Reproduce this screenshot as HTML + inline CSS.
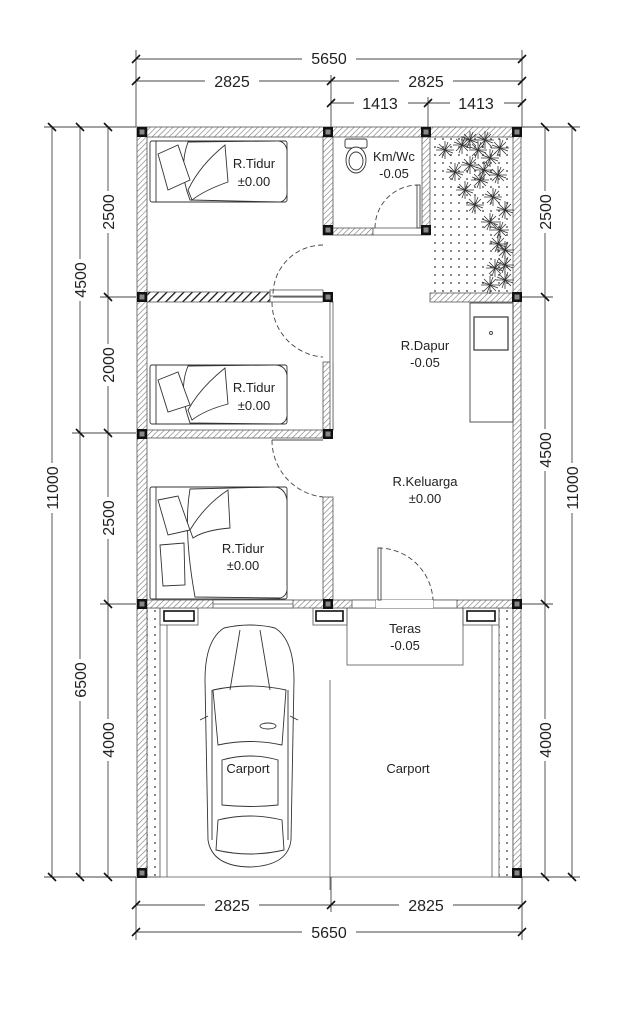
<!DOCTYPE html>
<html><head><meta charset="utf-8"><style>
html,body{margin:0;padding:0;background:#fff}
svg{display:block}
text{font-family:"Liberation Sans",sans-serif;fill:#222}
</style></head><body>
<svg width="639" height="1024" viewBox="0 0 639 1024" xmlns="http://www.w3.org/2000/svg">
<defs>
<pattern id="h" width="4" height="4" patternUnits="userSpaceOnUse" patternTransform="rotate(45)"><rect width="4" height="4" fill="#fff"/><line x1="0" y1="0" x2="0" y2="4" stroke="#777" stroke-width="1.2"/></pattern>
<pattern id="hd" width="6" height="6" patternUnits="userSpaceOnUse" patternTransform="rotate(45)"><rect width="6" height="6" fill="#fff"/><line x1="0" y1="0" x2="0" y2="6" stroke="#111" stroke-width="2.5"/></pattern>
<pattern id="dots" width="8" height="8" patternUnits="userSpaceOnUse"><circle cx="3" cy="3" r="0.9" fill="#333"/></pattern>
<g id="col"><rect x="-5" y="-5" width="10" height="10" fill="#111"/><rect x="-2.5" y="-2.5" width="5" height="5" fill="#888"/></g>
<g id="star" stroke="#333" stroke-width="0.8"><line x1="-9" y1="0" x2="9" y2="0"/><line x1="0" y1="-9" x2="0" y2="9"/><line x1="-6" y1="-6" x2="6" y2="6"/><line x1="-6" y1="6" x2="6" y2="-6"/><line x1="-8" y1="-3" x2="8" y2="3"/><line x1="-3" y1="8" x2="3" y2="-8"/></g>
</defs>

<g stroke="#444" stroke-width="0.9" fill="none">
<line x1="136" y1="59" x2="522" y2="59"/>
<line x1="136" y1="81" x2="522" y2="81"/>
<line x1="331" y1="103" x2="522" y2="103"/>
<line x1="136" y1="50" x2="136" y2="127"/>
<line x1="522" y1="50" x2="522" y2="127"/>
<line x1="331" y1="75" x2="331" y2="127"/>
<line x1="428" y1="97" x2="428" y2="127"/>
<line x1="136" y1="905" x2="522" y2="905"/>
<line x1="136" y1="932" x2="522" y2="932"/>
<line x1="136" y1="877" x2="136" y2="940"/>
<line x1="522" y1="877" x2="522" y2="940"/>
<line x1="331" y1="877" x2="331" y2="912"/>
<line x1="52" y1="127" x2="52" y2="877"/>
<line x1="80" y1="127" x2="80" y2="877"/>
<line x1="108" y1="127" x2="108" y2="877"/>
<line x1="44" y1="127" x2="136" y2="127"/>
<line x1="44" y1="877" x2="136" y2="877"/>
<line x1="72" y1="433" x2="136" y2="433"/>
<line x1="100" y1="297" x2="136" y2="297"/>
<line x1="100" y1="604" x2="136" y2="604"/>
<line x1="545" y1="127" x2="545" y2="877"/>
<line x1="572" y1="127" x2="572" y2="877"/>
<line x1="522" y1="127" x2="580" y2="127"/>
<line x1="522" y1="877" x2="580" y2="877"/>
<line x1="522" y1="297" x2="553" y2="297"/>
<line x1="522" y1="604" x2="553" y2="604"/>
</g>
<g stroke="#111" stroke-width="1.6">
<path d="M132 63l8-8M132 85l8-8M327 85l8-8M327 107l8-8M424 107l8-8M518 63l8-8M518 85l8-8M518 107l8-8"/>
<path d="M132 909l8-8M327 909l8-8M518 909l8-8M132 936l8-8M518 936l8-8"/>
<path d="M48 123l8 8M76 123l8 8M104 123l8 8M48 873l8 8M76 873l8 8M104 873l8 8M76 429l8 8M104 293l8 8M104 429l8 8M104 600l8 8"/>
<path d="M541 123l8 8M568 123l8 8M541 293l8 8M541 600l8 8M541 873l8 8M568 873l8 8"/>
</g>
<g font-size="16" text-anchor="middle">
<rect x="302" y="48" width="54" height="20" fill="#fff"/><text x="329" y="64">5650</text>
<rect x="205" y="70" width="54" height="20" fill="#fff"/><text x="232" y="87">2825</text>
<rect x="399" y="70" width="54" height="20" fill="#fff"/><text x="426" y="87">2825</text>
<rect x="354" y="92" width="54" height="20" fill="#fff"/><text x="380" y="109">1413</text>
<rect x="450" y="92" width="54" height="20" fill="#fff"/><text x="476" y="109">1413</text>
<rect x="205" y="894" width="54" height="20" fill="#fff"/><text x="232" y="911">2825</text>
<rect x="399" y="894" width="54" height="20" fill="#fff"/><text x="426" y="911">2825</text>
<rect x="302" y="921" width="54" height="20" fill="#fff"/><text x="329" y="938">5650</text>
</g>
<g font-size="16" text-anchor="middle">
<g transform="translate(52,488) rotate(-90)"><rect x="-25" y="-10" width="50" height="20" fill="#fff"/><text y="6">11000</text></g>
<g transform="translate(80,280) rotate(-90)"><rect x="-21" y="-10" width="42" height="20" fill="#fff"/><text y="6">4500</text></g>
<g transform="translate(80,680) rotate(-90)"><rect x="-21" y="-10" width="42" height="20" fill="#fff"/><text y="6">6500</text></g>
<g transform="translate(108,212) rotate(-90)"><rect x="-21" y="-10" width="42" height="20" fill="#fff"/><text y="6">2500</text></g>
<g transform="translate(108,365) rotate(-90)"><rect x="-21" y="-10" width="42" height="20" fill="#fff"/><text y="6">2000</text></g>
<g transform="translate(108,518) rotate(-90)"><rect x="-21" y="-10" width="42" height="20" fill="#fff"/><text y="6">2500</text></g>
<g transform="translate(108,740) rotate(-90)"><rect x="-21" y="-10" width="42" height="20" fill="#fff"/><text y="6">4000</text></g>
<g transform="translate(545,212) rotate(-90)"><rect x="-21" y="-10" width="42" height="20" fill="#fff"/><text y="6">2500</text></g>
<g transform="translate(545,450) rotate(-90)"><rect x="-21" y="-10" width="42" height="20" fill="#fff"/><text y="6">4500</text></g>
<g transform="translate(545,740) rotate(-90)"><rect x="-21" y="-10" width="42" height="20" fill="#fff"/><text y="6">4000</text></g>
<g transform="translate(572,488) rotate(-90)"><rect x="-25" y="-10" width="50" height="20" fill="#fff"/><text y="6">11000</text></g>
</g>

<rect x="430" y="137" width="83" height="156" fill="url(#dots)"/>
<rect x="147" y="608" width="13" height="269" fill="url(#dots)" stroke="#555" stroke-width="0.8"/>
<rect x="499" y="608" width="14" height="269" fill="url(#dots)" stroke="#555" stroke-width="0.8"/>
<g stroke="#555" stroke-width="0.8" fill="none">
<line x1="167" y1="625" x2="167" y2="877"/>
<line x1="492" y1="625" x2="492" y2="877"/>
<line x1="137" y1="877" x2="521" y2="877"/>
<line x1="330" y1="680" x2="330" y2="890"/>
<rect x="347" y="608" width="116" height="57"/>
<rect x="160" y="608" width="38" height="17"/><rect x="164" y="611" width="30" height="10" stroke="#111" stroke-width="1.6"/>
<rect x="313" y="608" width="34" height="17"/><rect x="316" y="611" width="27" height="10" stroke="#111" stroke-width="1.6"/>
<rect x="463" y="608" width="36" height="17"/><rect x="467" y="611" width="28" height="10" stroke="#111" stroke-width="1.6"/>
</g>

<g stroke="#555" stroke-width="0.8">
<rect x="137" y="127" width="384" height="10" fill="url(#h)"/>
<rect x="137" y="127" width="10" height="750" fill="url(#h)"/>
<rect x="513" y="127" width="8" height="750" fill="url(#h)"/>
<rect x="323" y="137" width="10" height="98" fill="url(#h)"/>
<rect x="422" y="137" width="8" height="98" fill="url(#h)"/>
<rect x="333" y="228" width="40" height="7" fill="url(#h)"/>
<rect x="430" y="293" width="83" height="9" fill="url(#h)"/>
<rect x="147" y="292" width="123" height="10" fill="url(#hd)"/>
<rect x="147" y="430" width="176" height="8" fill="url(#h)"/>
<rect x="323" y="362" width="10" height="68" fill="url(#h)"/>
<rect x="323" y="497" width="10" height="103" fill="url(#h)"/>
<rect x="147" y="600" width="366" height="8" fill="url(#h)"/>
<rect x="330" y="302" width="3" height="128" fill="#fff"/>
</g>
<g stroke="#555" stroke-width="0.8" fill="#fff">
<rect x="213" y="600" width="80" height="8"/><line x1="213" y1="604" x2="293" y2="604"/>
<rect x="352" y="600" width="24" height="8"/><rect x="433" y="600" width="24" height="8"/>
<rect x="376" y="600" width="57" height="8" stroke="none"/>
<rect x="373" y="228" width="49" height="7"/>
<rect x="270" y="290" width="53" height="12"/><line x1="270" y1="296" x2="323" y2="296"/>
</g>
<g stroke="#444" stroke-width="0.9" fill="none">
<path d="M323 245 A50 50 0 0 0 273 295" stroke-dasharray="5,3"/>
<line x1="273" y1="297" x2="323" y2="297"/>
<path d="M272 302 A55 55 0 0 0 323 357" stroke-dasharray="5,3"/>
<path d="M272 440 A57 57 0 0 0 323 497" stroke-dasharray="5,3"/>
<line x1="272" y1="440" x2="323" y2="440"/>
<path d="M378 548 A55 55 0 0 1 433 600" stroke-dasharray="5,3"/>
<rect x="378" y="548" width="3" height="52"/>
<path d="M375 228 A43 43 0 0 1 418 185" stroke-dasharray="5,3"/>
<rect x="417" y="185" width="3" height="43"/>
</g>
<g>
<use href="#col" x="142" y="132"/><use href="#col" x="328" y="132"/><use href="#col" x="426" y="132"/><use href="#col" x="517" y="132"/>
<use href="#col" x="328" y="230"/><use href="#col" x="426" y="230"/>
<use href="#col" x="142" y="297"/><use href="#col" x="328" y="297"/><use href="#col" x="517" y="297"/>
<use href="#col" x="142" y="434"/><use href="#col" x="328" y="434"/>
<use href="#col" x="142" y="604"/><use href="#col" x="328" y="604"/><use href="#col" x="517" y="604"/>
<use href="#col" x="142" y="873"/><use href="#col" x="517" y="873"/>
</g>
<g stroke="#333" stroke-width="0.9" fill="#fff">
<rect x="345" y="139" width="22" height="9" rx="2"/>
<ellipse cx="356" cy="160" rx="10" ry="13"/><ellipse cx="356" cy="161" rx="7" ry="9"/>
</g>
<g stroke="#444" stroke-width="0.9" fill="none">
<rect x="470" y="303" width="43" height="119"/>
<rect x="474" y="317" width="34" height="33" stroke-width="1.3"/>
<circle cx="491" cy="333" r="1.5"/>
</g>
<g stroke="#333" stroke-width="0.9" fill="#fff">
<rect x="150" y="141" width="137" height="61" rx="2"/><path d="M156 141v61"/>
<path d="M188 142 Q178 170 190 200 L280 202 Q288 200 287 190 L287 150 Q285 140 275 141Z"/>
<path d="M158 154 L178 145 L190 180 L168 190Z"/><path d="M188 190 Q200 165 225 145 L228 182 Q205 190 192 200Z"/>
<rect x="150" y="365" width="137" height="59" rx="2"/><path d="M156 365v59"/>
<path d="M188 366 Q178 390 190 423 L280 424 Q288 422 287 412 L287 375 Q285 365 275 365Z"/>
<path d="M158 380 L178 372 L190 405 L168 412Z"/><path d="M188 410 Q200 388 225 368 L228 404 Q205 410 192 420Z"/>
<rect x="150" y="487" width="137" height="112" rx="2"/><path d="M156 487v112"/>
<path d="M190 489 Q183 530 195 597 L280 598 Q288 596 287 586 L287 500 Q285 488 275 487Z"/>
<path d="M158 500 L178 496 L190 530 L168 535Z"/><path d="M160 545 L184 543 L185 585 L163 586Z"/><path d="M190 530 Q205 505 228 490 L230 528 Q205 530 193 538Z"/>
</g>
<g stroke="#333" stroke-width="0.9" fill="#fff">
<path d="M224 628 Q205 640 205 680 L208 840 Q212 866 249 867 Q288 866 291 840 L294 680 Q294 640 275 628 Q250 622 224 628Z"/>
<path d="M213 690 Q250 682 286 690 L282 745 Q250 738 218 745Z" fill="none"/>
<path d="M222 760 Q250 752 278 760 L278 805 Q250 808 222 805Z" fill="none"/>
<path d="M218 820 Q250 812 282 820 L284 850 Q250 858 216 850Z" fill="none"/>
<path d="M200 720 l8 -4M298 720 l-8 -4"/>
<ellipse cx="268" cy="726" rx="8" ry="3"/>
<line x1="240" y1="630" x2="230" y2="690"/><line x1="260" y1="630" x2="270" y2="690"/>
<line x1="212" y1="690" x2="212" y2="840"/><line x1="288" y1="690" x2="288" y2="840"/>
</g>
<g>
<use href="#star" x="445" y="150"/><use href="#star" x="462" y="145"/><use href="#star" x="478" y="150"/><use href="#star" x="470" y="165"/>
<use href="#star" x="490" y="158"/><use href="#star" x="455" y="172"/><use href="#star" x="480" y="180"/><use href="#star" x="498" y="175"/>
<use href="#star" x="465" y="190"/><use href="#star" x="493" y="197"/><use href="#star" x="505" y="210"/><use href="#star" x="500" y="230"/>
<use href="#star" x="505" y="250"/><use href="#star" x="495" y="268"/><use href="#star" x="505" y="280"/><use href="#star" x="485" y="140"/>
<use href="#star" x="475" y="205"/><use href="#star" x="490" y="222"/><use href="#star" x="498" y="244"/><use href="#star" x="484" y="170"/>
<use href="#star" x="470" y="140"/><use href="#star" x="500" y="148"/><use href="#star" x="490" y="285"/><use href="#star" x="505" y="265"/>
</g>
<g font-size="13" text-anchor="middle">
<text x="254" y="168">R.Tidur</text><text x="254" y="186">±0.00</text>
<text x="394" y="161">Km/Wc</text><text x="394" y="178">-0.05</text>
<text x="425" y="350">R.Dapur</text><text x="425" y="367">-0.05</text>
<text x="254" y="392">R.Tidur</text><text x="254" y="410">±0.00</text>
<text x="425" y="486">R.Keluarga</text><text x="425" y="503">±0.00</text>
<text x="243" y="553">R.Tidur</text><text x="243" y="570">±0.00</text>
<text x="405" y="633">Teras</text><text x="405" y="650">-0.05</text>
<text x="248" y="773">Carport</text>
<text x="408" y="773">Carport</text>
</g>
</svg>
</body></html>
